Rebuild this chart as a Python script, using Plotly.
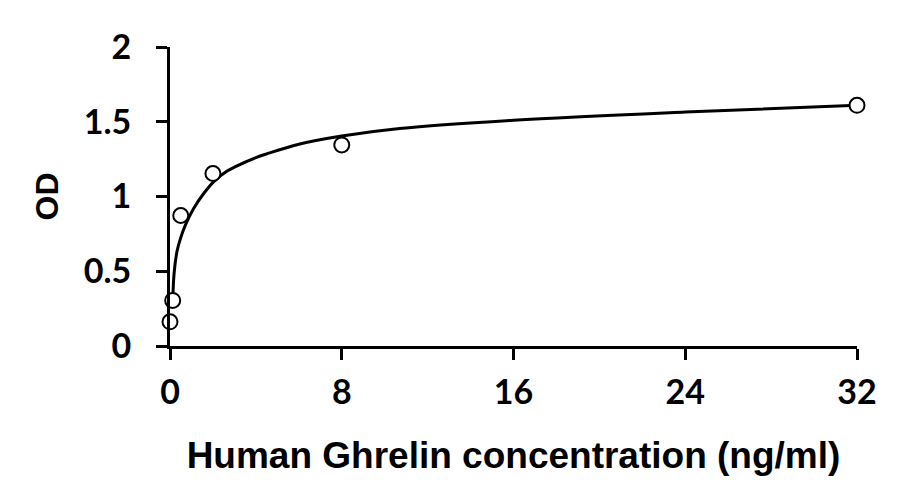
import plotly.graph_objects as go

# Measured standards
conc = [0, 0.125, 0.5, 2, 8, 32]
od = [0.162, 0.305, 0.873, 1.154, 1.345, 1.61]

# Fitted curve
curve_x = [0.13, 0.15, 0.2, 0.33, 0.49, 0.72, 1.1, 1.57, 2.04, 2.66, 3.05, 4.0, 4.5, 6.0, 8.0, 10.7, 16.0, 24.0, 32.0]
curve_y = [0.30, 0.39, 0.50, 0.635, 0.72, 0.81, 0.92, 1.02, 1.10, 1.17, 1.20, 1.26, 1.285, 1.35, 1.405, 1.455, 1.51, 1.565, 1.61]

x_ticks = [0, 8, 16, 24, 32]
y_ticks = [0, 0.5, 1, 1.5, 2]
y_tick_labels = ["0", "0.5", "1", "1.5", "2"]

fig = go.Figure()
fig.add_trace(go.Scatter(
    x=curve_x, y=curve_y, mode="lines",
    line=dict(color="black", width=3, shape="spline", smoothing=1.0),
    hoverinfo="skip", showlegend=False, cliponaxis=False,
))
fig.add_trace(go.Scatter(
    x=conc, y=od, mode="markers",
    marker=dict(symbol="circle", size=15, color="white",
                line=dict(color="black", width=2)),
    showlegend=False, cliponaxis=False,
))

tick_font = dict(family="Lato, Open Sans, sans-serif", size=34, color="black", weight="bold")
fig.update_layout(
    width=921, height=498,
    margin=dict(l=162, r=72, t=39, b=160, autoexpand=False),
    paper_bgcolor="white", plot_bgcolor="white",
    xaxis=dict(
        range=[0, 32], tickvals=x_ticks, ticktext=[str(v) for v in x_ticks],
        showgrid=False, zeroline=False, showline=True, linecolor="black", linewidth=3,
        ticks="outside", ticklen=11, tickwidth=2.5, tickcolor="black",
        tickfont=tick_font, ticklabelstandoff=3, automargin=True,
        title=dict(text="Human Ghrelin concentration (ng/ml)",
                   font=dict(family="Liberation Sans, Arial, sans-serif", size=37, color="black", weight="bold"),
                   standoff=33),
    ),
    yaxis=dict(
        range=[0, 2], tickvals=y_ticks, ticktext=y_tick_labels,
        showgrid=False, zeroline=False, showline=True, linecolor="black", linewidth=3,
        ticks="outside", ticklen=11, tickwidth=2.5, tickcolor="black",
        tickfont=tick_font, ticklabelstandoff=18, automargin=True,
        title=dict(text="OD",
                   font=dict(family="Liberation Sans, Arial, sans-serif", size=32, color="black", weight="bold"),
                   standoff=16),
    ),
)

fig.write_html("out.html")
